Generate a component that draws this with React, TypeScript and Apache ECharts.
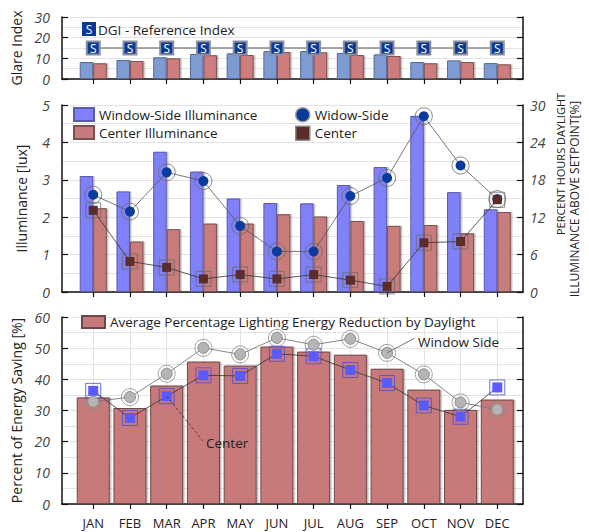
import React, { useEffect, useRef } from 'react';
import * as echarts from 'echarts';

const months = ['JAN', 'FEB', 'MAR', 'APR', 'MAY', 'JUN', 'JUL', 'AUG', 'SEP', 'OCT', 'NOV', 'DEC'];
const monthIdx = [0, 1, 2, 3, 4, 5, 6, 7, 8, 9, 10, 11];

// Top panel: glare index
const glareWindow = [8.2, 9.2, 10.5, 12.1, 12.4, 13.5, 13.5, 12.6, 11.9, 8.2, 9.0, 7.7];
const glareCenter = [7.6, 8.7, 10.0, 11.5, 11.6, 13.1, 12.9, 11.6, 11.1, 7.6, 8.2, 7.1];
const dgiReference = [15, 15, 15, 15, 15, 15, 15, 15, 15, 15, 15, 15];

// Middle panel: illuminance (left axis) and percent hours (right axis)
const illumWindow = [3.1, 2.69, 3.75, 3.22, 2.5, 2.38, 2.37, 2.86, 3.34, 4.71, 2.67, 2.21];
const illumCenter = [2.24, 1.35, 1.68, 1.83, 1.83, 2.08, 2.02, 1.9, 1.77, 1.79, 1.57, 2.14];
const hoursWindow = [15.6, 12.9, 19.2, 17.8, 10.6, 6.5, 6.5, 15.4, 18.3, 28.2, 20.3, 14.9];
const hoursCenter = [13.1, 4.9, 3.95, 2.1, 2.8, 2.1, 2.8, 1.9, 0.9, 7.9, 8.1, 14.8];

// Bottom panel: energy saving
const savingAverage = [34.2, 30.8, 38.0, 45.7, 44.4, 50.5, 48.9, 47.9, 43.4, 36.7, 30.2, 33.5];
const savingWindow = [32.8, 34.3, 41.8, 50.1, 48.0, 53.3, 51.1, 53.0, 48.5, 41.6, 32.6, 30.3];
const savingCenter = [36.3, 27.6, 34.6, 41.3, 41.1, 48.2, 47.4, 43.0, 38.8, 31.6, 28.0, 37.4];

const FONT = '"Open Sans", "DejaVu Sans", sans-serif';
const AXIS = '#111';
const GRIDC = '#e3e3e3';

const pairs = (arr: number[]) => arr.map((v, i) => [monthIdx[i], v]);

function xAxisFor(gridIndex: number, showLabel: boolean) {
  return {
    type: 'value',
    gridIndex,
    min: -0.85,
    max: 11.7,
    axisLine: { show: true, onZero: false, lineStyle: { color: AXIS, width: 1.5 } },
    axisTick: { show: true, inside: false, length: 5, customValues: monthIdx, lineStyle: { color: AXIS, width: 1.2 } },
    axisLabel: {
      show: showLabel,
      customValues: monthIdx,
      formatter: (v: number) => months[Math.round(v)] ?? '',
      fontFamily: FONT,
      fontSize: 13,
      color: '#222',
      margin: 12,
    },
    splitLine: { show: false },
  };
}

const numLabel = (margin: number) => ({
  show: true,
  fontFamily: FONT,
  fontStyle: 'italic',
  fontSize: 14,
  color: '#444',
  margin,
});

function leftY(gridIndex: number, max: number, interval: number, name: string) {
  return {
    type: 'value',
    gridIndex,
    position: 'left',
    min: 0,
    max,
    interval,
    name,
    nameLocation: 'middle',
    nameGap: 34,
    nameTextStyle: { fontFamily: FONT, fontSize: 14, color: '#222' },
    axisLine: { show: true, onZero: false, lineStyle: { color: AXIS, width: 1.5 } },
    axisTick: { show: true, inside: true, length: 6, lineStyle: { color: AXIS, width: 1.2 } },
    axisLabel: numLabel(12),
    splitLine: { show: true, lineStyle: { color: GRIDC, width: 1 } },
    minorTick: { show: false, splitNumber: 2 },
    minorSplitLine: { show: true, lineStyle: { color: GRIDC, width: 1 } },
  };
}

function rightY(gridIndex: number, max: number, interval: number, showLabel: boolean) {
  return {
    type: 'value',
    gridIndex,
    position: 'right',
    min: 0,
    max,
    interval,
    axisLine: { show: true, onZero: false, lineStyle: { color: AXIS, width: 1.5 } },
    axisTick: { show: true, inside: true, length: 6, lineStyle: { color: AXIS, width: 1.2 } },
    axisLabel: showLabel ? numLabel(7) : { show: false },
    splitLine: { show: false },
  };
}

const barBorder = (fill: string, border: string) => ({
  color: fill,
  borderColor: border,
  borderWidth: 1,
  shadowColor: 'rgba(0,0,0,0.25)',
  shadowOffsetX: 1.5,
  shadowOffsetY: 0,
  shadowBlur: 0,
});

const LEG_TEXT = { fontFamily: FONT, fontSize: 13.5, color: '#222' };

const option: any = {
  animation: false,
  backgroundColor: '#fff',
  textStyle: { fontFamily: FONT },
  grid: [
    { left: 62, right: 66, top: 17, height: 62 },
    { left: 62, right: 66, top: 105, height: 187 },
    { left: 62, right: 66, top: 317, height: 187 },
  ],
  xAxis: [xAxisFor(0, false), xAxisFor(1, false), xAxisFor(2, true)],
  yAxis: [
    leftY(0, 30, 10, 'Glare Index'),
    rightY(0, 30, 10, false),
    leftY(1, 5, 1, 'Illuminance [lux]'),
    rightY(1, 30, 6, true),
    leftY(2, 60, 10, 'Percent of Energy Saving [%]'),
    rightY(2, 60, 10, false),
  ],
  legend: [
    {
      orient: 'vertical',
      left: 73,
      top: 107,
      padding: 0,
      itemWidth: 20,
      itemHeight: 13,
      itemGap: 3,
      icon: 'rect',
      textStyle: LEG_TEXT,
      data: ['Window-Side Illuminance', 'Center Illuminance'],
    },
    {
      orient: 'vertical',
      left: 295,
      top: 107,
      padding: 0,
      itemWidth: 14,
      itemHeight: 14,
      itemGap: 3,
      textStyle: LEG_TEXT,
      data: [
        { name: 'Widow-Side', icon: 'circle', itemStyle: { borderColor: '#9a9a9a', borderWidth: 1.5 } },
        { name: 'Center', icon: 'rect', itemStyle: { borderColor: '#8a8a8a', borderWidth: 1.5 } },
      ],
    },
    {
      left: 81,
      top: 315,
      padding: 0,
      itemWidth: 23,
      itemHeight: 12,
      icon: 'rect',
      textStyle: LEG_TEXT,
      data: ['Average Percentage Lighting Energy Reduction by Daylight'],
    },
  ],
  graphic: [
    {
      type: 'group',
      z: 100,
      children: [
        { type: 'rect', z: 100, shape: { x: 82, y: 22, width: 14, height: 14 }, style: { fill: '#0b3a96' } },
        { type: 'text', z: 101, x: 89, y: 29.5, style: { text: 'S', fill: '#fff', fontSize: 12, fontFamily: FONT, align: 'center', verticalAlign: 'middle' } },
        { type: 'text', z: 101, x: 98, y: 29.5, style: { text: 'DGI - Reference Index', fill: '#222', fontSize: 13.5, fontFamily: FONT, align: 'left', verticalAlign: 'middle' } },
      ],
    },
    { type: 'text', z: 100, x: 560, y: 164, rotation: Math.PI / 2, style: { text: 'PERCENT HOURS DAYLIGHT', fill: '#222', fontSize: 11, fontFamily: FONT, align: 'center', verticalAlign: 'middle' } },
    { type: 'text', z: 100, x: 574, y: 199, rotation: Math.PI / 2, style: { text: 'ILLUMINANCE ABOVE SETPOINT[%]', fill: '#222', fontSize: 12, fontFamily: FONT, align: 'center', verticalAlign: 'middle' } },
    { type: 'text', z: 100, x: 206, y: 443, style: { text: 'Center', fill: '#222', fontSize: 13.5, fontFamily: FONT, align: 'left', verticalAlign: 'middle' } },
    { type: 'text', z: 100, x: 418, y: 342, style: { text: 'Window Side', fill: '#222', fontSize: 13.5, fontFamily: FONT, align: 'left', verticalAlign: 'middle' } },
  ],
  series: [
    // ---- top panel
    {
      name: 'Glare Window', type: 'bar', xAxisIndex: 0, yAxisIndex: 0, barWidth: 13.5, barGap: '0%',
      itemStyle: barBorder('#7f9bd3', '#56698f'), data: pairs(glareWindow),
    },
    {
      name: 'Glare Center', type: 'bar', xAxisIndex: 0, yAxisIndex: 0, barWidth: 13.5, barGap: '0%',
      itemStyle: barBorder('#cd7d7d', '#7d5050'), data: pairs(glareCenter),
    },
    {
      name: 'DGI - Reference Index', type: 'line', xAxisIndex: 0, yAxisIndex: 0, z: 5,
      symbol: 'rect', symbolSize: 13,
      lineStyle: { color: '#8c8c8c', width: 1.5 },
      itemStyle: { color: '#0b3a96', borderColor: '#8b90a0', borderWidth: 2 },
      label: { show: true, position: 'inside', formatter: 'S', color: '#fff', fontSize: 12, fontFamily: FONT },
      data: pairs(dgiReference),
    },
    // ---- middle panel
    {
      name: 'Window-Side Illuminance', type: 'bar', xAxisIndex: 1, yAxisIndex: 2, barWidth: 13.5, barGap: '0%',
      itemStyle: barBorder('#8080f8', '#5a5aa8'), data: pairs(illumWindow),
    },
    {
      name: 'Center Illuminance', type: 'bar', xAxisIndex: 1, yAxisIndex: 2, barWidth: 13.5, barGap: '0%',
      itemStyle: barBorder('#c97b7b', '#7a5050'), data: pairs(illumCenter),
    },
    {
      name: 'ring-w', type: 'scatter', xAxisIndex: 1, yAxisIndex: 3, z: 4, symbol: 'circle', symbolSize: 17,
      itemStyle: { color: 'rgba(255,255,255,0)', borderColor: '#6a6a6a', borderWidth: 1 },
      data: pairs(hoursWindow),
    },
    {
      name: 'Widow-Side', type: 'line', xAxisIndex: 1, yAxisIndex: 3, z: 5, symbol: 'circle', symbolSize: 10,
      lineStyle: { color: '#555', width: 0.8 },
      itemStyle: { color: '#0a3a9c', borderColor: '#0a3a9c', borderWidth: 0 },
      data: pairs(hoursWindow),
    },
    {
      name: 'ring-c', type: 'scatter', xAxisIndex: 1, yAxisIndex: 3, z: 4, symbol: 'rect', symbolSize: 15,
      itemStyle: { color: 'rgba(255,255,255,0)', borderColor: '#6a6a6a', borderWidth: 1 },
      data: pairs(hoursCenter),
    },
    {
      name: 'Center', type: 'line', xAxisIndex: 1, yAxisIndex: 3, z: 5, symbol: 'rect', symbolSize: 9,
      lineStyle: { color: '#333', width: 0.8 },
      itemStyle: { color: '#5a2c2c', borderColor: '#5a2c2c', borderWidth: 0 },
      data: pairs(hoursCenter),
    },
    // ---- bottom panel
    {
      name: 'Average Percentage Lighting Energy Reduction by Daylight', type: 'bar', xAxisIndex: 2, yAxisIndex: 4,
      barWidth: 33, itemStyle: barBorder('#c87a7a', '#6e4848'), data: pairs(savingAverage),
      markLine: {
        silent: true, symbol: 'none', z: 1, label: { show: false },
        lineStyle: { color: GRIDC, type: 'solid', width: 1 },
        data: monthIdx.map((m) => ({ xAxis: m })),
      },
    },
    {
      name: 'ring-sw', type: 'scatter', xAxisIndex: 2, yAxisIndex: 4, z: 4, symbol: 'circle', symbolSize: 17,
      itemStyle: { color: 'rgba(255,255,255,0)', borderColor: '#8a8a8a', borderWidth: 1 },
      data: pairs(savingWindow),
    },
    {
      name: 'Window Side', type: 'line', xAxisIndex: 2, yAxisIndex: 4, z: 5, symbol: 'circle', symbolSize: 11,
      lineStyle: { color: '#777', width: 0.9 },
      itemStyle: { color: '#b5b5b5', borderColor: '#8e8e8e', borderWidth: 1 },
      data: pairs(savingWindow),
      markLine: {
        silent: true, symbol: 'none', label: { show: false }, z: 6,
        lineStyle: { color: '#666', type: 'solid', width: 0.9 },
        data: [[{ coord: [8, 48.5] }, { coord: [8.75, 53.2] }]],
      },
    },
    {
      name: 'ring-sc', type: 'scatter', xAxisIndex: 2, yAxisIndex: 4, z: 4, symbol: 'rect', symbolSize: 15,
      itemStyle: { color: 'rgba(255,255,255,0)', borderColor: '#4b4bd0', borderWidth: 1 },
      data: pairs(savingCenter),
    },
    {
      name: 'Center Saving', type: 'line', xAxisIndex: 2, yAxisIndex: 4, z: 5, symbol: 'rect', symbolSize: 10,
      lineStyle: { color: '#333', width: 0.8 },
      itemStyle: { color: '#5a5aff', borderColor: '#5a5aff', borderWidth: 0 },
      data: pairs(savingCenter),
      markLine: {
        silent: true, symbol: 'none', label: { show: false }, z: 6,
        lineStyle: { color: '#5a3a4a', type: [3, 2], width: 1 },
        data: [[{ coord: [2, 34.6] }, { coord: [2.99, 20.2] }]],
      },
    },
  ],
};

export default function App() {
  const ref = useRef<HTMLDivElement>(null);
  useEffect(() => {
    if (!ref.current) return;
    const chart = echarts.init(ref.current, null, { renderer: 'svg' });
    chart.setOption(option);
    return () => chart.dispose();
  }, []);
  return (
    <div
      ref={ref}
      style={{ position: 'fixed', left: 0, top: 0, width: 589, height: 532, background: '#fff' }}
    />
  );
}
